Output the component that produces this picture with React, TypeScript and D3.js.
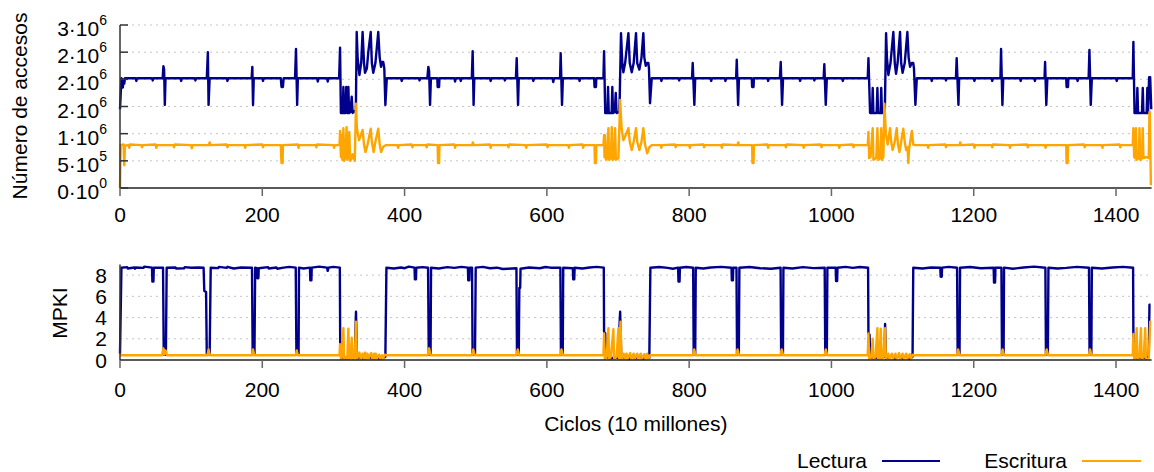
import React from "react";
import { scaleLinear, line } from "d3";

const W = 1154;
const H = 472;
const FONT = "Liberation Sans, Arial, Helvetica, sans-serif";
const READ_COLOR = "#00008b";
const WRITE_COLOR = "#ffa500";

// x axis (ciclos, 10 millones)
const xTicks = [0, 200, 400, 600, 800, 1000, 1200, 1400];

// top panel ticks (millones de accesos) and their gnuplot-style labels
const accessTicks = [0, 0.5, 1, 1.5, 2, 2.5, 3];
const accessTickMantissa = ["0", "5", "1", "2", "2", "2", "3"];
const accessTickExponent = ["0", "5", "6", "6", "6", "6", "6"];

// bottom panel ticks
const mpkiTicks = [0, 2, 4, 6, 8];

// Número de accesos, lectura (millones)
const readAccesses: [number, number][] = [
  [0, 1.45], [2, 2.02], [3, 1.98], [4, 1.85], [5, 2.0], [6, 1.92], [7, 2.02],
  [22, 2.02], [23, 1.97], [24, 2.02], [45, 2.02], [46, 1.98], [47, 2.02],
  [60, 2.02], [61, 2.24], [62, 2.18], [63, 1.53], [64, 2.02],
  [85, 2.02], [86, 1.97], [87, 2.02], [105, 2.02], [106, 1.98], [107, 2.02],
  [122, 2.02], [123.5, 2.5], [124.5, 1.53], [126, 2.02],
  [150, 2.02], [151, 1.97], [152, 2.02],
  [185, 2.02], [186, 2.23], [187, 1.53], [188, 2.02],
  [200, 2.02], [201, 1.97], [202, 2.02],
  [226, 2.02], [227, 1.86], [229, 1.86], [230, 2.02],
  [246, 2.02], [247.4, 2.56], [249, 1.53], [250, 2.02],
  [277, 2.02], [278, 1.96], [279, 2.02], [291, 2.02], [292, 1.96], [293, 2.02],
  [308, 2.02], [309.3, 2.58], [310.5, 1.38], [313, 1.38], [314, 1.86], [315, 1.38],
  [317, 1.38], [318, 1.86], [319, 1.4], [320, 1.38], [321, 1.86], [322, 1.38],
  [324, 1.4], [325.7, 1.68], [327, 1.38], [330, 1.42], [331.5, 1.4], [332.7, 2.87],
  [334, 2.4], [336.5, 2.08], [339, 2.3], [341, 2.87], [343, 2.3], [344.4, 2.12],
  [347, 2.2], [349, 2.5], [352.4, 2.87], [354, 2.3], [356, 2.12], [359, 2.3],
  [363, 2.87], [365, 2.4], [366.9, 2.23], [368, 2.32], [370, 2.32], [371.5, 2.2],
  [373, 1.53], [375, 2.02],
  [395, 2.02], [396, 1.97], [397, 2.02], [420, 2.02], [421, 1.98], [422, 2.02],
  [432, 2.02], [433.4, 2.23], [434.5, 2.15], [435.8, 1.53], [437, 2.02],
  [446, 2.02], [446.5, 1.86], [448.5, 1.86], [449, 2.02],
  [470, 2.02], [471, 1.96], [472, 2.02], [478, 2.02], [479, 1.97], [480, 2.02],
  [494.5, 2.02], [495.7, 2.52], [497, 1.53], [498, 2.02],
  [520, 2.02], [521, 1.97], [522, 2.02], [540, 2.02], [541, 1.98], [542, 2.02],
  [556.5, 2.02], [557.6, 2.39], [559.5, 1.53], [560.5, 2.02],
  [580, 2.02], [581, 1.97], [582, 2.02], [608, 2.02], [609, 1.95], [610, 2.02],
  [618.5, 2.02], [619.4, 2.48], [621.3, 1.53], [622.5, 2.02],
  [645, 2.02], [646, 1.97], [647, 2.02],
  [666.5, 2.02], [667, 1.86], [669, 1.86], [669.5, 2.02],
  [679.5, 2.02], [680.4, 2.52], [682, 1.38], [685, 1.38], [686, 1.86], [687, 1.38],
  [691, 1.38], [692, 1.86], [693, 1.38], [695.5, 1.4], [696.8, 1.75], [698, 1.38],
  [702, 1.4], [704.2, 2.85], [706, 2.3], [707.5, 2.13], [710, 2.3], [714.6, 2.85],
  [716.5, 2.3], [719.3, 2.13], [722, 2.3], [725.3, 2.85], [727, 2.3], [730, 2.18],
  [733, 2.4], [735.6, 2.85], [737, 2.4], [739, 2.25], [741, 2.3], [742.7, 2.3],
  [743.5, 2.2], [745, 1.56], [747.4, 2.02],
  [760, 2.02], [761, 1.97], [762, 2.02], [785, 2.02], [786, 1.98], [787, 2.02],
  [804, 2.02], [805, 2.3], [807.3, 1.53], [808.5, 2.02],
  [830, 2.02], [831, 1.97], [832, 2.02], [850, 2.02], [851, 1.97], [852, 2.02],
  [866, 2.02], [866.9, 2.36], [868.8, 1.53], [870, 2.02],
  [888, 2.02], [888.5, 1.86], [890.5, 1.86], [891, 2.02],
  [910, 2.02], [911, 1.97], [912, 2.02],
  [927.5, 2.02], [928.7, 2.32], [930.6, 1.53], [932, 2.02],
  [955, 2.02], [956, 1.97], [957, 2.02], [975, 2.02], [976, 1.98], [977, 2.02],
  [989, 2.02], [990, 2.28], [992, 1.53], [993.5, 2.02],
  [1015, 2.02], [1016, 1.97], [1017, 2.02],
  [1051, 2.02], [1052, 2.39], [1054.3, 1.38], [1057, 1.38], [1058, 1.84], [1059, 1.38],
  [1063.5, 1.38], [1064.6, 1.84], [1065.5, 1.38], [1069, 1.38], [1070, 1.84], [1071, 1.38],
  [1075, 1.4], [1076.8, 2.85], [1078, 2.4], [1080, 2.08], [1083, 2.3], [1087, 2.87],
  [1089, 2.3], [1090.8, 2.1], [1093, 2.3], [1096.4, 2.87], [1098, 2.3], [1100, 2.12],
  [1103, 2.3], [1106.7, 2.87], [1108.5, 2.4], [1110.5, 2.23], [1113, 2.3], [1115, 2.3],
  [1116, 2.2], [1118, 1.53], [1120, 2.02],
  [1140, 2.02], [1141, 1.97], [1142, 2.02], [1160, 2.02], [1161, 1.98], [1162, 2.02],
  [1175, 2.02], [1176, 2.39], [1178.5, 1.53], [1179.5, 2.02],
  [1200, 2.02], [1201, 1.97], [1202, 2.02], [1225, 2.02], [1226, 1.97], [1227, 2.02],
  [1237.5, 2.02], [1238.4, 2.56], [1240.3, 1.53], [1241.5, 2.02],
  [1265, 2.02], [1266, 1.97], [1267, 2.02], [1285, 2.02], [1286, 1.97], [1287, 2.02],
  [1299.5, 2.02], [1300.3, 2.32], [1302, 1.53], [1303.5, 2.02],
  [1330, 2.02], [1330.5, 1.86], [1332.5, 1.86], [1333, 2.02],
  [1345, 2.02], [1346, 1.97], [1347, 2.02],
  [1361.5, 2.02], [1362.6, 2.54], [1364.5, 1.53], [1366, 2.02],
  [1400, 2.02], [1401, 1.97], [1402, 2.02],
  [1423.5, 2.02], [1424.4, 2.69], [1426, 1.38], [1429, 1.38], [1430, 1.84], [1431, 1.38],
  [1436.5, 1.38], [1437.6, 1.84], [1438.5, 1.38], [1443, 1.38], [1444, 1.84], [1445, 1.38],
  [1446.5, 2.04], [1448, 2.04], [1449.5, 1.45],
];

// Número de accesos, escritura (millones)
const writeAccesses: [number, number][] = [
  [0, 0], [1, 0.79], [5, 0.8], [6, 0.42], [7, 0.78], [12, 0.79], [13, 0.74], [14, 0.8],
  [30, 0.79], [31, 0.75], [32, 0.79], [50, 0.8], [51, 0.74], [52, 0.79],
  [75, 0.79], [76, 0.75], [77, 0.8], [100, 0.79], [101, 0.73], [102, 0.79],
  [125, 0.79], [126, 0.84], [127, 0.79], [150, 0.8], [151, 0.75], [152, 0.79],
  [175, 0.79], [176, 0.74], [177, 0.79], [200, 0.8], [201, 0.75], [202, 0.79],
  [226, 0.79], [227, 0.46], [228.5, 0.46], [229, 0.79], [250, 0.8], [251, 0.74], [252, 0.79],
  [275, 0.79], [276, 0.75], [277, 0.8], [300, 0.79], [301, 0.74], [302, 0.79],
  [308.5, 0.79], [309.3, 1.05], [310.5, 0.57], [311.5, 0.98], [312.5, 0.52], [314, 1.1],
  [315, 0.5], [316.5, 0.55], [318.5, 1.12], [319.5, 0.52], [321, 0.57], [322.3, 1.03],
  [323.5, 0.5], [326, 0.55], [327, 0.62], [330, 0.5], [331.7, 1.55], [333, 1.1],
  [336, 0.88], [338, 0.95], [341, 1.07], [343, 0.8], [345, 0.66], [348, 0.8],
  [352.4, 1.09], [354, 0.85], [356.5, 0.66], [359, 0.85], [363, 1.09], [365, 0.8],
  [367, 0.66], [370, 0.76], [374, 0.79],
  [390, 0.79], [391, 0.74], [392, 0.79], [410, 0.8], [411, 0.75], [412, 0.79],
  [430, 0.79], [431, 0.75], [432, 0.8], [446.5, 0.79], [447, 0.46], [448.5, 0.46], [449, 0.79],
  [470, 0.8], [471, 0.74], [472, 0.79], [495, 0.79], [496, 0.84], [497, 0.79],
  [520, 0.8], [521, 0.74], [522, 0.79], [545, 0.79], [546, 0.75], [547, 0.8],
  [570, 0.79], [571, 0.74], [572, 0.79], [600, 0.8], [601, 0.75], [602, 0.79],
  [630, 0.79], [631, 0.74], [632, 0.79], [650, 0.8], [651, 0.74], [652, 0.79],
  [667, 0.79], [667.5, 0.46], [669, 0.46], [669.5, 0.79],
  [679.5, 0.79], [680.4, 0.97], [681, 0.57], [681.8, 0.97], [683, 0.52], [685, 0.55],
  [686.5, 1.1], [687.5, 0.52], [690, 0.55], [691.2, 1.12], [692.5, 0.52], [694.5, 0.55],
  [695.9, 1.1], [697, 0.52], [700.6, 0.55], [703, 1.62], [705, 1.1], [707.5, 0.88],
  [710, 0.95], [714.6, 1.1], [716.5, 0.85], [719.3, 0.7], [722, 0.85], [725.3, 1.1],
  [727, 0.85], [730, 0.7], [733, 0.85], [735.6, 1.1], [738, 0.8], [741, 0.64],
  [744, 0.75], [747.4, 0.79],
  [760, 0.79], [761, 0.74], [762, 0.79], [780, 0.8], [781, 0.75], [782, 0.79],
  [800, 0.79], [801, 0.74], [802, 0.79], [820, 0.8], [821, 0.75], [822, 0.79],
  [845, 0.79], [846, 0.74], [847, 0.8], [868, 0.79], [869, 0.84], [870, 0.79],
  [888.5, 0.79], [889, 0.46], [890.5, 0.46], [891, 0.79],
  [910, 0.8], [911, 0.74], [912, 0.79], [935, 0.79], [936, 0.75], [937, 0.8],
  [960, 0.79], [961, 0.74], [962, 0.79], [985, 0.8], [986, 0.75], [987, 0.79],
  [1010, 0.79], [1011, 0.74], [1012, 0.79], [1030, 0.8], [1031, 0.75], [1032, 0.79],
  [1051, 0.79], [1052, 1.03], [1053, 0.55], [1055, 0.57], [1058, 1.1], [1059, 0.52],
  [1063, 0.55], [1064.6, 1.1], [1066, 0.52], [1068.5, 0.55], [1070, 1.1], [1071, 0.52],
  [1073, 0.57], [1074.5, 1.55], [1076.5, 1.0], [1079, 0.8], [1082.4, 1.1], [1084, 0.85],
  [1086, 0.7], [1089, 0.85], [1091.8, 1.1], [1093.5, 0.8], [1095.6, 0.66], [1098, 0.85],
  [1101, 1.09], [1103, 0.85], [1105, 0.7], [1107, 0.75], [1108, 0.46], [1109, 0.7],
  [1113, 1.05], [1115, 0.8], [1117.6, 0.79],
  [1135, 0.79], [1136, 0.74], [1137, 0.79], [1160, 0.8], [1161, 0.75], [1162, 0.79],
  [1180, 0.79], [1181, 0.84], [1182, 0.79], [1200, 0.8], [1201, 0.74], [1202, 0.79],
  [1225, 0.79], [1226, 0.75], [1227, 0.8], [1250, 0.79], [1251, 0.74], [1252, 0.79],
  [1275, 0.8], [1276, 0.75], [1277, 0.79], [1300, 0.79], [1301, 0.74], [1302, 0.79],
  [1330, 0.79], [1330.5, 0.46], [1332, 0.46], [1332.5, 0.79],
  [1355, 0.8], [1356, 0.75], [1357, 0.79], [1380, 0.79], [1381, 0.74], [1382, 0.79],
  [1405, 0.8], [1406, 0.75], [1407, 0.79],
  [1423.5, 0.79], [1424.4, 1.1], [1425.5, 0.57], [1427, 0.55], [1428, 1.1], [1429, 0.52],
  [1432, 0.55], [1433, 1.1], [1434, 0.52], [1436.5, 0.55], [1437.6, 1.1], [1438.5, 0.55],
  [1443, 0.57], [1446, 0.55], [1447, 1.4], [1447.5, 1.4], [1449, 0.05],
];

// MPKI, lectura
const readMpki: [number, number][] = [
  [0, 0.6], [2, 8.7], [10, 8.75], [11, 8.62], [20, 8.72], [21, 8.6], [22, 8.72],
  [33, 8.68], [34, 8.8], [45, 8.7], [45.5, 7.4], [47, 7.4], [47.5, 8.7],
  [60.5, 8.7], [61.5, 0.5], [64.5, 0.5], [65.6, 8.7],
  [78, 8.72], [79, 8.62], [90, 8.65], [91, 8.75], [100, 8.7], [110, 8.72],
  [117.5, 8.7], [118.5, 6.5], [121, 6.4], [122, 0.5], [126, 0.5], [127.5, 8.7],
  [138, 8.66], [139, 8.78], [150, 8.68], [151, 8.78], [160, 8.62], [170, 8.72],
  [185.5, 8.7], [186.5, 0.5], [189, 0.5], [190, 8.7],
  [192.5, 8.65], [193, 7.7], [194.5, 7.7], [195, 8.65],
  [208, 8.75], [209, 8.62], [220, 8.72], [221, 8.6], [230, 8.7], [238, 8.78],
  [247, 8.7], [248, 0.5], [251, 0.5], [251.6, 8.7],
  [258, 8.62], [267, 8.7], [267.5, 7.5], [269, 7.5], [269.5, 8.7],
  [280, 8.8], [291, 8.7], [292, 8.4], [293, 8.7], [300, 8.78], [309, 8.7],
  [309.5, 1.7], [311, 0.6], [313, 0.2], [320, 0.15], [325, 0.2], [330, 0.3],
  [331.7, 4.55], [333, 0.5], [336, 0.2], [340, 0.4], [342, 0.15], [350, 0.3],
  [355, 0.15], [360, 0.25], [365, 0.1], [370, 0.2], [373, 0.3], [374.5, 8.7],
  [385, 8.62], [395, 8.72], [400, 8.65], [406, 8.8], [414, 8.7], [414.5, 7.6], [416, 7.6], [416.5, 8.7],
  [425, 8.75], [433, 8.7], [434, 0.5], [436.5, 0.5], [437.2, 8.7],
  [448, 8.62], [460, 8.75], [470, 8.68], [480, 8.78], [489, 8.7], [489.5, 7.5], [491, 7.5], [491.5, 8.7],
  [494.8, 8.7], [495.6, 0.5], [499, 0.5], [500, 8.7],
  [510, 8.78], [520, 8.65], [530, 8.7], [538, 8.58], [545, 8.6],
  [557.2, 8.65], [558, 0.5], [560.5, 0.5], [561.3, 6.8], [562.5, 6.8], [563, 8.6],
  [575, 8.72], [590, 8.65], [598, 8.76], [605, 8.7],
  [619, 8.7], [619.8, 0.5], [622.3, 0.5], [623, 8.7],
  [636.5, 8.65], [637, 7.6], [638.5, 7.6], [639, 8.7], [650, 8.62], [660, 8.72], [670, 8.78], [680, 8.7],
  [680.4, 2.67], [682, 2.5], [683, 0.3], [690, 0.15], [695, 0.25], [700, 0.2],
  [703, 4.55], [704.5, 0.4], [708, 0.2], [712, 0.4], [715, 0.1], [720, 0.35],
  [725, 0.15], [730, 0.4], [735, 0.1], [740, 0.3], [744, 0.2], [745.5, 8.7],
  [758, 8.76], [770, 8.68], [777, 8.6], [784.5, 8.7], [785, 7.4], [786.5, 7.4], [787, 8.7],
  [796, 8.76], [805.6, 8.7], [806.4, 0.5], [808.5, 0.5], [809.3, 8.7], [820, 8.62], [830, 8.72],
  [845, 8.78], [859.5, 8.7], [860, 7.5], [861.5, 7.5], [862, 8.7],
  [866.5, 8.7], [867.3, 0.5], [869.8, 0.5], [870.6, 8.7], [885, 8.76], [900, 8.65], [915, 8.6],
  [928.5, 8.7], [929.3, 0.5], [931.8, 0.5], [932.5, 8.7], [945, 8.62], [960, 8.75], [975, 8.66],
  [990.5, 8.7], [991.3, 0.5], [993.5, 0.5], [994.3, 8.7],
  [1006, 8.7], [1006.5, 7.45], [1008, 7.45], [1008.5, 8.7], [1020, 8.78], [1030, 8.68], [1040, 8.76], [1051.5, 8.7],
  [1052, 2.5], [1053.5, 2.4], [1054.5, 0.3], [1060, 0.15], [1065, 0.25], [1070, 0.2],
  [1074.5, 0.3], [1075.4, 3.4], [1076.5, 0.4], [1080, 0.2], [1085, 0.45], [1090, 0.1],
  [1095, 0.4], [1100, 0.15], [1105, 0.35], [1110, 0.1], [1114, 0.3], [1115, 8.7],
  [1128, 8.62], [1140, 8.72], [1153, 8.7], [1153.5, 7.85], [1155, 7.85], [1155.5, 8.7],
  [1165, 8.78], [1176.6, 8.7], [1177.4, 0.5], [1180, 0.5], [1180.8, 8.7], [1195, 8.76], [1210, 8.65],
  [1228, 8.7], [1228.5, 7.3], [1230, 7.3], [1230.5, 8.7],
  [1238.9, 8.7], [1239.7, 0.5], [1242, 0.5], [1242.6, 8.7], [1255, 8.6], [1270, 8.72], [1285, 8.8],
  [1300.7, 8.7], [1301.5, 0.5], [1304.2, 0.5], [1305, 8.7], [1318, 8.62], [1330, 8.68], [1345, 8.78],
  [1362, 8.7], [1362.8, 0.5], [1365.3, 0.5], [1366, 8.7], [1380, 8.62], [1395, 8.72], [1410, 8.78], [1424, 8.7],
  [1424.4, 2.0], [1425.5, 0.3], [1430, 0.15], [1435, 0.25], [1440, 0.2], [1446, 0.3],
  [1447, 5.2], [1448.5, 5.2],
];

// MPKI, escritura
const writeMpki: [number, number][] = [
  [0, 0.45], [59, 0.45], [61, 1.1], [62, 0.5], [64, 0.9], [66, 0.45],
  [123, 0.45], [124.5, 1.0], [126, 0.45], [185.5, 0.45], [187, 1.0], [188.5, 0.45],
  [247, 0.45], [248.5, 0.9], [250, 0.45], [308.5, 0.45],
  [309.3, 1.5], [310.5, 0.1], [312, 0.3], [314, 3.0], [315, 0.1], [317, 0.3],
  [319.5, 0.15], [321, 2.95], [322, 0.15], [324, 0.2], [325.7, 2.1], [327, 0.1],
  [330, 0.2], [331.7, 3.6], [333, 0.1], [336.5, 0.7], [338, 0.15], [341, 0.6],
  [342.5, 0.1], [344.6, 0.7], [346, 0.1], [347.8, 0.6], [349, 0.15], [353, 0.65],
  [354.5, 0.1], [357, 0.6], [358, 0.1], [359.5, 0.6], [361, 0.1], [364, 0.5],
  [366, 0.1], [368, 0.45], [370, 0.1], [372, 0.5], [374, 0.45],
  [432.5, 0.45], [434.5, 1.1], [436.5, 0.45], [494.8, 0.45], [496.5, 1.0], [498.5, 0.45],
  [557.2, 0.45], [559, 1.0], [561, 0.45], [619, 0.45], [620.5, 1.0], [622.5, 0.45],
  [679.5, 0.45],
  [680.4, 2.5], [681.5, 0.1], [684, 0.3], [686.5, 3.0], [687.5, 0.1], [690, 0.3],
  [693.5, 2.9], [694.5, 0.1], [698, 0.3], [700.6, 3.0], [701.5, 0.1], [703.5, 3.6],
  [705, 0.1], [708, 0.6], [709.5, 0.1], [712, 0.6], [713.5, 0.1], [717, 0.65],
  [718.5, 0.1], [722, 0.6], [723.5, 0.1], [727, 0.6], [728.5, 0.1], [732, 0.6],
  [733.5, 0.1], [737, 0.55], [738.5, 0.1], [741, 0.6], [742.5, 0.1], [745, 0.45],
  [805.6, 0.45], [807, 1.0], [809, 0.45], [866.5, 0.45], [868, 1.0], [870, 0.45],
  [928.5, 0.45], [930, 1.0], [932, 0.45], [990.5, 0.45], [992, 1.0], [994, 0.45],
  [1051, 0.45],
  [1052, 2.5], [1053, 0.1], [1056, 0.3], [1058, 2.0], [1059, 0.1], [1062, 0.3],
  [1064.6, 3.0], [1065.5, 0.1], [1067.5, 0.2], [1069.3, 2.95], [1070.5, 0.1], [1073, 0.3],
  [1075.4, 3.0], [1076.5, 0.1], [1080, 0.6], [1081.5, 0.1], [1085, 0.6], [1086.5, 0.1],
  [1090, 0.6], [1091.5, 0.1], [1095, 0.65], [1096.5, 0.1], [1100, 0.6], [1101.5, 0.1],
  [1105, 0.6], [1106.5, 0.1], [1110, 0.55], [1111.5, 0.1], [1114, 0.5], [1115.5, 0.45],
  [1176.6, 0.45], [1178, 1.0], [1180, 0.45], [1238.9, 0.45], [1240.5, 1.0], [1242.5, 0.45],
  [1300.7, 0.45], [1302.5, 1.0], [1304.5, 0.45], [1362, 0.45], [1363.5, 1.0], [1365.5, 0.45],
  [1423.5, 0.45],
  [1424.4, 2.45], [1425.5, 0.1], [1427.5, 0.3], [1429, 3.0], [1430, 0.1], [1433, 0.3],
  [1435, 3.0], [1436, 0.1], [1439, 0.3], [1441, 3.0], [1442, 0.1], [1446, 0.2],
  [1448, 3.6], [1449.5, 3.6],
];

const PLOT_LEFT = 120;
const PLOT_RIGHT = 1151.6;

const x = scaleLinear().domain([0, 1450]).range([PLOT_LEFT, PLOT_RIGHT]);
const yTop = scaleLinear().domain([0, 3]).range([188, 25]);
const yBot = scaleLinear().domain([0, 9]).range([360, 264.5]);

const pathTop = line<[number, number]>().x((d) => x(d[0])).y((d) => yTop(d[1]));
const pathBot = line<[number, number]>().x((d) => x(d[0])).y((d) => yBot(d[1]));

const gridStyle = { stroke: "#c4c4c4", strokeWidth: 1, strokeDasharray: "2,4" };
const lineStyle = { fill: "none", strokeWidth: 2.4, strokeLinejoin: "round" as const };

export default function App() {
  return (
    <svg
      width={W}
      height={H}
      style={{ position: "absolute", left: 0, top: 0, background: "#fff" }}
      fontFamily={FONT}
      fontSize={21}
    >
      {/* top panel grid */}
      {accessTicks.slice(1).map((t) => (
        <line key={"gt" + t} x1={PLOT_LEFT} x2={PLOT_RIGHT} y1={yTop(t)} y2={yTop(t)} {...gridStyle} />
      ))}
      {/* bottom panel grid */}
      {mpkiTicks.slice(1).map((t) => (
        <line key={"gb" + t} x1={PLOT_LEFT} x2={PLOT_RIGHT} y1={yBot(t)} y2={yBot(t)} {...gridStyle} />
      ))}

      {/* series */}
      <path d={pathTop(readAccesses) || ""} stroke={READ_COLOR} {...lineStyle} />
      <path d={pathTop(writeAccesses) || ""} stroke={WRITE_COLOR} {...lineStyle} />
      <path d={pathBot(readMpki) || ""} stroke={READ_COLOR} {...lineStyle} />
      <path d={pathBot(writeMpki) || ""} stroke={WRITE_COLOR} {...lineStyle} />

      {/* top panel axes */}
      <line x1={PLOT_LEFT} x2={PLOT_LEFT} y1={yTop(3)} y2={yTop(0)} stroke="#333" strokeWidth={1.5} />
      <line x1={PLOT_LEFT} x2={PLOT_RIGHT} y1={yTop(0)} y2={yTop(0)} stroke="#222" strokeWidth={1.5} />
      {accessTicks.map((t, i) => (
        <g key={"ty" + t}>
          <line x1={PLOT_LEFT} x2={PLOT_LEFT + 8} y1={yTop(t)} y2={yTop(t)} stroke="#333" strokeWidth={1.5} />
          <text x={107} y={yTop(t) + 11} textAnchor="end">
            {accessTickMantissa[i]}·10
            <tspan fontSize={14} dy={-11}>{accessTickExponent[i]}</tspan>
          </text>
        </g>
      ))}
      {xTicks.map((t) => (
        <g key={"tx" + t}>
          <line x1={x(t)} x2={x(t)} y1={yTop(0)} y2={yTop(0) + 8} stroke="#666" strokeWidth={1.5} />
          <text x={x(t)} y={222} textAnchor="middle">{t}</text>
        </g>
      ))}
      <text transform={`translate(27,106) rotate(-90)`} textAnchor="middle">Número de accesos</text>

      {/* bottom panel axes */}
      <line x1={PLOT_LEFT} x2={PLOT_LEFT} y1={yBot(9)} y2={yBot(0)} stroke="#333" strokeWidth={1.5} />
      <line x1={PLOT_LEFT} x2={PLOT_RIGHT} y1={yBot(0)} y2={yBot(0)} stroke="#222" strokeWidth={1.5} />
      {mpkiTicks.map((t) => (
        <text key={"by" + t} x={107} y={yBot(t) + 7.5} textAnchor="end">{t}</text>
      ))}
      {xTicks.map((t) => (
        <g key={"bx" + t}>
          <line x1={x(t)} x2={x(t)} y1={yBot(0)} y2={yBot(0) + 8} stroke="#666" strokeWidth={1.5} />
          <text x={x(t)} y={397} textAnchor="middle">{t}</text>
        </g>
      ))}
      <text transform={`translate(67,313) rotate(-90)`} textAnchor="middle">MPKI</text>
      <text x={(PLOT_LEFT + PLOT_RIGHT) / 2} y={431} textAnchor="middle">Ciclos (10 millones)</text>

      {/* legend */}
      <text x={867} y={468} textAnchor="end">Lectura</text>
      <line x1={882} x2={940} y1={461} y2={461} stroke={READ_COLOR} strokeWidth={2} />
      <text x={1067} y={468} textAnchor="end">Escritura</text>
      <line x1={1082} x2={1141} y1={461} y2={461} stroke={WRITE_COLOR} strokeWidth={2} />
    </svg>
  );
}
